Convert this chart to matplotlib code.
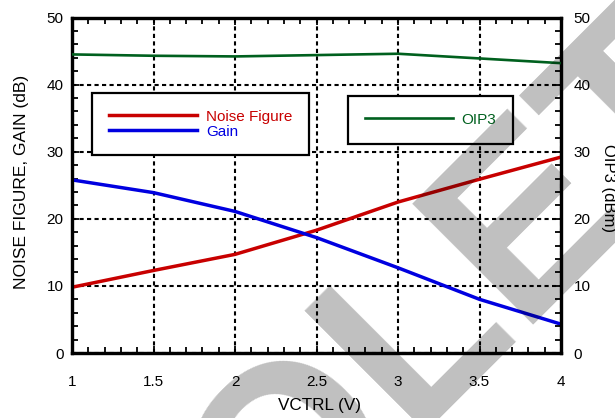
import matplotlib
matplotlib.use("Agg")
import matplotlib.pyplot as plt
from matplotlib.ticker import MultipleLocator

plt.rcParams['font.family'] = ['Liberation Sans', 'DejaVu Sans']

vctrl = [1.0, 1.5, 2.0, 2.5, 3.0, 3.5, 4.0]
noise_figure = [9.8, 12.3, 14.7, 18.3, 22.5, 25.9, 29.2]
gain = [25.8, 23.9, 21.1, 17.2, 12.7, 8.0, 4.3]
oip3 = [44.5, 44.3, 44.2, 44.4, 44.6, 43.9, 43.2]

x_ticks = [1, 1.5, 2, 2.5, 3, 3.5, 4]
x_tick_labels = ['1', '1.5', '2', '2.5', '3', '3.5', '4']
y_ticks = [0, 10, 20, 30, 40, 50]

RED = '#c80000'
BLUE = '#0000e0'
GREEN = '#00601e'

fig = plt.figure(figsize=(6.15, 4.18), dpi=100)
ax = fig.add_axes([0.1171, 0.1555, 0.7951, 0.8026])

ax.plot(vctrl, noise_figure, color=RED, lw=2.5, label='Noise Figure', zorder=3)
ax.plot(vctrl, gain, color=BLUE, lw=2.5, label='Gain', zorder=3)

ax.set_xlim(1, 4)
ax.set_ylim(0, 50)
ax.set_xticks(x_ticks)
ax.set_xticklabels(x_tick_labels)
ax.set_yticks(y_ticks)
ax.xaxis.set_minor_locator(MultipleLocator(0.1))
ax.yaxis.set_minor_locator(MultipleLocator(2))
ax.grid(True, which='major', color='black', lw=1.5, linestyle=(0, (2, 1.6)))
ax.tick_params(which='both', direction='in', top=True, right=False, width=1.3,
               labelsize=11, colors='black')
ax.tick_params(which='major', length=5)
ax.tick_params(which='minor', length=4)
ax.tick_params(axis='x', which='major', pad=16)
ax.tick_params(axis='y', which='major', pad=6)
for s in ax.spines.values():
    s.set_linewidth(2.3)

ax.set_xlabel('VCTRL (V)', fontsize=12.3, va='center')
ax.xaxis.set_label_coords(0.506, -0.156)
ax.set_ylabel('NOISE FIGURE, GAIN (dB)', fontsize=12.5, va='center')
ax.yaxis.set_label_coords(-0.103, 0.511)

ax2 = ax.twinx()
ax2.plot(vctrl, oip3, color=GREEN, lw=1.9, label='OIP3', zorder=3)
ax2.set_ylim(0, 50)
ax2.set_yticks(y_ticks)
ax2.yaxis.set_minor_locator(MultipleLocator(2))
ax2.tick_params(which='both', direction='in', width=1.3, labelsize=11)
ax2.tick_params(which='major', length=5, pad=9)
ax2.tick_params(which='minor', length=4)
for s in ax2.spines.values():
    s.set_linewidth(2.3)
ax2.set_ylabel('OIP3 (dBm)', fontsize=12, rotation=270, va='center')
ax2.yaxis.set_label_coords(1.098, 0.492)

leg1 = ax.legend(loc='upper left', bbox_to_anchor=(0.041, 0.775), borderaxespad=0,
                 fontsize=11, handlelength=5.8, handletextpad=0.55, borderpad=1.1,
                 labelspacing=0.05, labelcolor='linecolor', fancybox=False,
                 framealpha=1, edgecolor='black')
leg1.get_frame().set_linewidth(1.6)
leg1.set_zorder(5)
leg2 = ax2.legend(loc='upper left', bbox_to_anchor=(0.564, 0.766), borderaxespad=0,
                  fontsize=11, handlelength=5.8, handletextpad=0.55, borderpad=1.1,
                  labelcolor='linecolor', fancybox=False, framealpha=1,
                  edgecolor='black')
leg2.get_frame().set_linewidth(1.6)

# watermark
fig.text(378 / 615, 1 - 470 / 418, 'OBSOLETE', fontsize=179, fontweight='bold',
         color='black', alpha=0.25, rotation=45, rotation_mode='anchor',
         ha='center', va='baseline', zorder=10)

fig.savefig('out.png', dpi=100)
